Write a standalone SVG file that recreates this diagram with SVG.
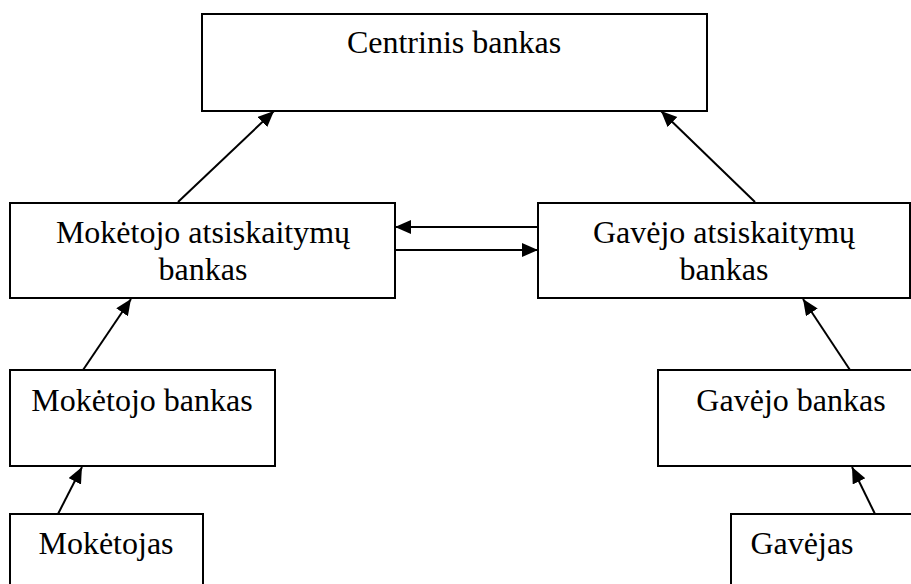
<svg xmlns="http://www.w3.org/2000/svg" width="911" height="584" viewBox="0 0 911 584">
<style>
.box{fill:#fff;stroke:#000;stroke-width:2}
.lbl{font-family:"Liberation Serif","Times New Roman",serif;font-size:32px;fill:#000;text-anchor:middle}
.conn line{stroke:#000;stroke-width:2;marker-end:url(#ah)}
</style>
<defs>
<marker id="ah" markerUnits="userSpaceOnUse" markerWidth="17" markerHeight="15" refX="16" refY="7" orient="auto">
<path d="M0,0 L16,7 L0,14 z" fill="#000"/>
</marker>
</defs>
<rect width="911" height="584" fill="#fff"/>
<g id="centrinis">
<rect class="box" x="202" y="14" width="505" height="97"/>
<text class="lbl" x="454" y="53">Centrinis bankas</text>
</g>
<g id="moketojo-atsiskaitymu">
<rect class="box" x="10" y="203" width="385" height="95"/>
<text class="lbl" x="203" y="243">Mokėtojo atsiskaitymų</text>
<text class="lbl" x="203" y="280">bankas</text>
</g>
<g id="gavejo-atsiskaitymu">
<rect class="box" x="538" y="203" width="372" height="95"/>
<text class="lbl" x="724" y="243">Gavėjo atsiskaitymų</text>
<text class="lbl" x="724" y="280">bankas</text>
</g>
<g id="moketojo-bankas">
<rect class="box" x="10" y="370" width="265" height="96"/>
<text class="lbl" x="142" y="411">Mokėtojo bankas</text>
</g>
<g id="gavejo-bankas">
<rect class="box" x="658" y="370" width="270" height="96"/>
<text class="lbl" x="791" y="411">Gavėjo bankas</text>
</g>
<g id="moketojas">
<rect class="box" x="10" y="514" width="193" height="80"/>
<text class="lbl" x="106" y="554">Mokėtojas</text>
</g>
<g id="gavejas">
<rect class="box" x="731" y="514" width="200" height="80"/>
<text class="lbl" x="802" y="554">Gavėjas</text>
</g>
<g id="connectors" class="conn">
<line x1="178" y1="202" x2="274" y2="111"/>
<line x1="755" y1="202" x2="661" y2="111"/>
<line x1="538" y1="227" x2="395" y2="227"/>
<line x1="395" y1="250" x2="538" y2="250"/>
<line x1="83" y1="370" x2="131" y2="299"/>
<line x1="850" y1="370" x2="803" y2="299"/>
<line x1="58" y1="514" x2="82" y2="467"/>
<line x1="875" y1="514" x2="852" y2="467"/>
</g>
</svg>
